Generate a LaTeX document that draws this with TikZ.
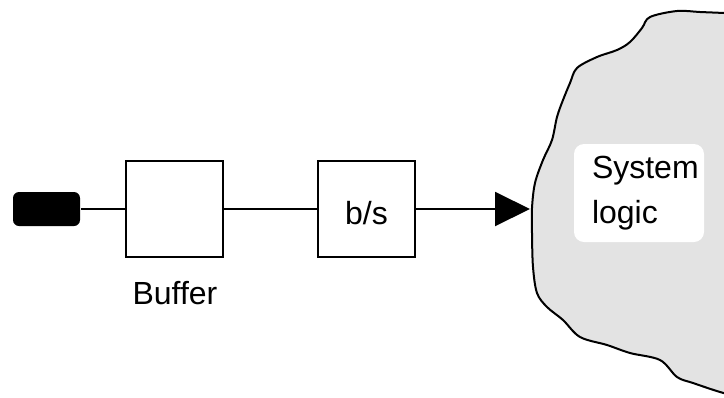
\documentclass[tikz,border=0pt]{standalone}
\usepackage{fontspec}
\setmainfont{Liberation Sans}
\usepackage{xcolor}
\usetikzlibrary{arrows.meta}
\definecolor{cloudgray}{HTML}{E3E3E3}
\tikzset{blk/.style={draw, line width=1pt, minimum width=48.5pt, minimum height=48pt, inner sep=0pt}}
\tikzset{logicbg/.style={fill=white, rounded corners=5pt, minimum width=65pt, minimum height=49pt, inner sep=0pt}}

\begin{document}
\begin{tikzpicture}[x=0.5pt, y=-0.5pt, line width=1pt, font=\fontsize{16}{22.5}\selectfont]
\useasboundingbox (0,0) rectangle (724,397);
% system cloud
\begin{scope}
\clip (0,0) rectangle (724,397);
\draw[fill=cloudgray] plot[smooth, tension=0.55] coordinates {(740,14) (724,13) (700,12) (677,11) (650,17) (642,28) (630,42) (617,50) (597,57) (577,68) (570,83) (563,100) (557,117) (552,140) (543,160) (535,183) (532,208) (532,233) (533,267) (537,293) (547,307) (563,320) (580,337) (607,345) (630,353) (660,360) (677,377) (693,383) (720,392) (740,397)} -- (760,420) -- (760,0) -- cycle;
\end{scope}
\node[logicbg] (logicbox) at (639,193) {};
\node[anchor=west, align=left, inner sep=0pt] (logic) at ([xshift=9pt]logicbox.west) {System\\logic};
% chain
\node[fill=black, rounded corners=3pt, minimum width=33.5pt, minimum height=17pt, inner sep=0pt] (plug) at (46.5,209) {};
\node[blk] (buffer) at (174.5,209) {};
\node (buflabel) at (175,293) {Buffer};
\node[blk, text height=15pt, text depth=0pt] (rate) at (366.5,209) {b/s};
\coordinate (entry) at (530,209);
\draw (plug) -- (buffer);
\draw (buffer) -- (rate);
\draw[-{Triangle[length=17.5pt, width=17pt]}] (rate) -- (entry);
\end{tikzpicture}
\end{document}
